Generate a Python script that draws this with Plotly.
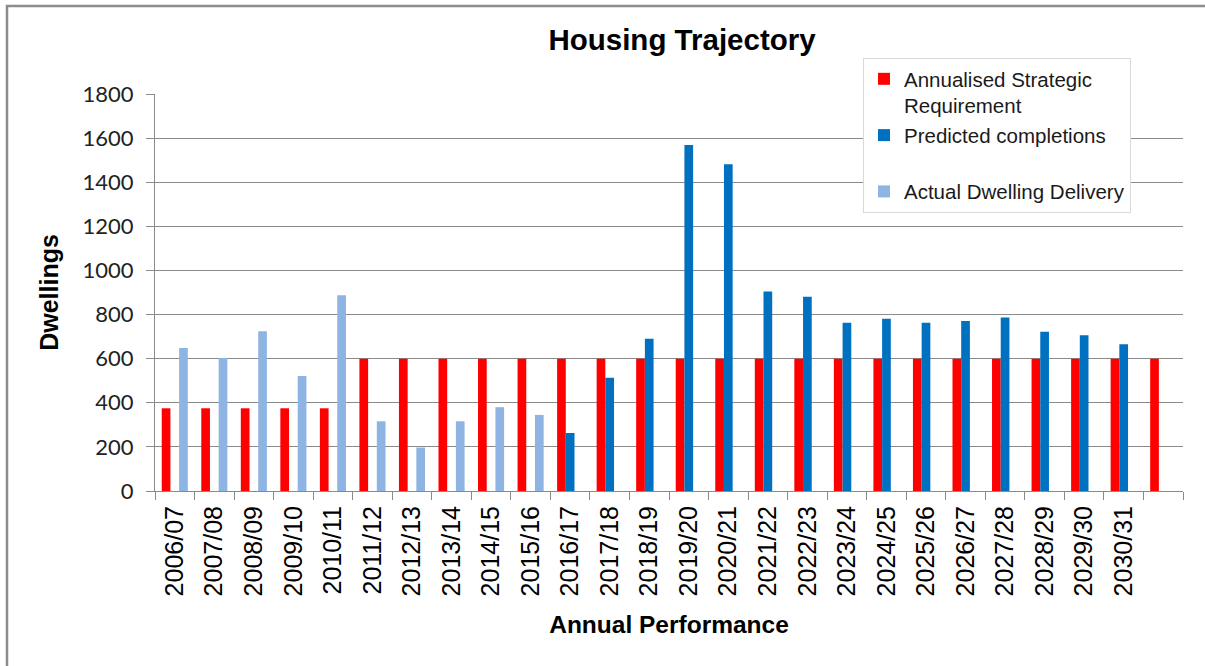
import plotly.graph_objects as go

categories = ["2006/07", "2007/08", "2008/09", "2009/10", "2010/11", "2011/12", "2012/13",
              "2013/14", "2014/15", "2015/16", "2016/17", "2017/18", "2018/19", "2019/20",
              "2020/21", "2021/22", "2022/23", "2023/24", "2024/25", "2025/26", "2026/27",
              "2027/28", "2028/29", "2029/30", "2030/31", " "]

requirement = [375, 375, 375, 375, 375, 600, 600, 600, 600, 600, 600, 600, 600, 600,
               600, 600, 600, 600, 600, 600, 600, 600, 600, 600, 600, 600]

predicted = [None, None, None, None, None, None, None, None, None, None, 263, 513, 690, 1569,
             1481, 904, 881, 763, 781, 763, 771, 787, 722, 706, 665, None]

actual = [648, 603, 724, 521, 887, 316, 197, 316, 380, 345, None, None, None, None,
          None, None, None, None, None, None, None, None, None, None, None, None]

series_names = ["Annualised Strategic<br>Requirement", "Predicted completions<br> ",
                "Actual Dwelling Delivery"]
colors = ["#FF0000", "#0070C0", "#8DB4E2"]

fig = go.Figure()
for name, vals, col in zip(series_names, [requirement, predicted, actual], colors):
    fig.add_trace(go.Bar(x=categories, y=vals, name=name, marker_color=col,
                         marker_line_width=0))

grid = "#8a8a8a"
fig.update_layout(
    width=1205, height=666,
    paper_bgcolor="white", plot_bgcolor="white",
    margin=dict(l=155, r=22, t=94, b=175),
    barmode="group", bargap=0.34, bargroupgap=0,
    font=dict(family="Liberation Sans, Arial, sans-serif", color="#000000"),
    title=dict(text="<b>Housing Trajectory</b>", x=0.566, xanchor="center",
               y=0.94, yanchor="middle", xref="container", yref="container",
               font=dict(size=29.5, family="Liberation Sans, Arial, sans-serif", color="#000")),
    legend=dict(x=(863 - 155) / 1028, y=(491 - 58) / 397, xanchor="left", yanchor="top",
                bgcolor="white", bordercolor="#d9d9d9", borderwidth=1,
                font=dict(size=20.5, family="Liberation Sans, Arial, sans-serif", color="#1a1a1a"),
                valign="top", traceorder="normal", tracegroupgap=0),
    showlegend=True,
)
fig.update_xaxes(
    type="category", categoryorder="array", categoryarray=categories,
    tickangle=-90, tickson="boundaries", ticks="outside", ticklen=8, tickcolor=grid,
    ticklabelstandoff=4,
    showline=True, linecolor=grid, linewidth=1, showgrid=False,
    tickfont=dict(size=25, family="Liberation Sans, Arial, sans-serif", color="#000"),
    title=dict(text="<b>Annual Performance</b>", standoff=20,
               font=dict(size=24.5, family="Liberation Sans, Arial, sans-serif", color="#000")),
)
fig.update_yaxes(
    range=[0, 1800], dtick=200, tick0=0,
    ticks="outside", ticklen=8, tickcolor=grid, ticklabelstandoff=8,
    showline=True, linecolor=grid, linewidth=1,
    showgrid=True, gridcolor=grid, gridwidth=1, zeroline=False,
    tickfont=dict(size=22, family="Lato, Carlito, sans-serif", color="#222"),
    title=dict(text="<b>Dwellings</b>", standoff=16,
               font=dict(size=25, family="Liberation Sans, Arial, sans-serif", color="#000")),
)
# outer chart-area border
fig.add_shape(type="rect", xref="paper", yref="paper",
              x0=(7 - 155) / 1028, x1=(1225 - 155) / 1028,
              y0=(491 - 700) / 397, y1=(491 - 6) / 397,
              line=dict(color="#8c8c8c", width=2.5), fillcolor="rgba(0,0,0,0)", layer="below")

fig.write_html("out.html", config={"displayModeBar": False},
               post_script="document.body.style.margin='0';document.body.style.overflow='hidden';")
